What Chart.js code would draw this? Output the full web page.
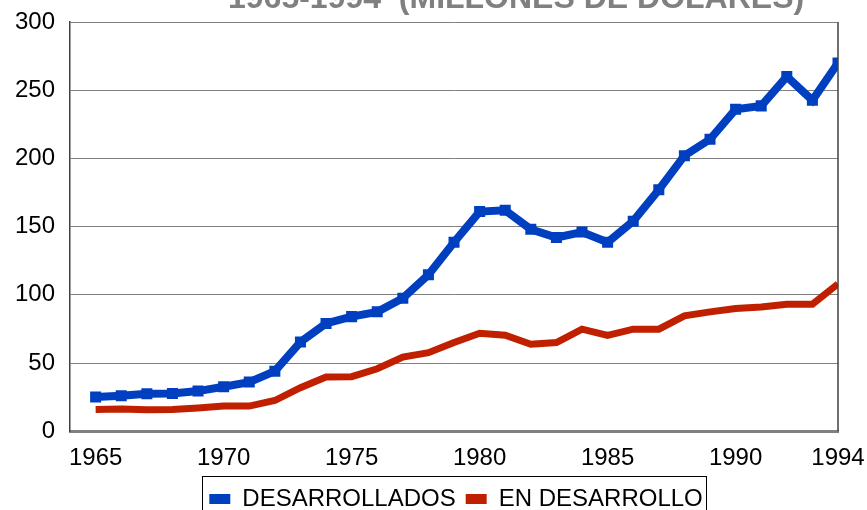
<!DOCTYPE html>
<html>
<head>
<meta charset="utf-8">
<script src="https://cdn.jsdelivr.net/npm/chart.js@4/dist/chart.umd.min.js"></script>
<style>
    html, body { margin: 0; padding: 0; background: #fff; }
    #wrap { position: relative; width: 867px; height: 510px; overflow: hidden; }
    #wrap canvas { position: absolute; left: 0; top: 0; }
</style>
</head>
<body>
<div id="wrap"><canvas id="exportChart" width="867" height="521"></canvas></div>
<script>
const years = [1965,1966,1967,1968,1969,1970,1971,1972,1973,1974,1975,1976,1977,1978,1979,
               1980,1981,1982,1983,1984,1985,1986,1987,1988,1989,1990,1991,1992,1993,1994];

const desarrollados = [25,26,27.5,27.7,29.4,32.6,36,44,65.4,79,84,87.5,97.5,114.7,138.5,
                       161,162,148,142,146,138.5,154,177,202,214,236,238.5,260,242.6,270];

const enDesarrollo = [16,16.3,15.8,16,17,18.4,18.4,22.5,31.9,39.7,40,45.8,54.4,57.6,65,
                      71.8,70.3,63.7,65,74.8,70.3,74.8,74.8,84.6,87.5,90,91,93,93,108];

const xTicks = [1965,1970,1975,1980,1985,1990,1994];
const yTicks = [0,50,100,150,200,250,300];

const titleText = "1965-1994  (MILLONES DE DÓLARES)";
const FONT = "'Liberation Sans', Arial, sans-serif";

function toPoints(values) {
    return values.map((v, i) => ({ x: years[i], y: v }));
}

// frame on the right, box around the legend, cut-off title
let legendShift = 0;
const extras = {
    id: "extras",
    beforeDraw(chart) {
        // center the legend under the plot instead of the canvas
        const lg = chart.legend;
        const a = chart.chartArea;
        legendShift = (a.left + a.right) / 2 - (lg.left + lg.right) / 2 + 2;
        lg.left += legendShift;
        lg.right += legendShift;
    },
    afterDraw(chart) {
        const ctx = chart.ctx;
        const a = chart.chartArea;
        ctx.save();
        ctx.strokeStyle = "#404040";
        ctx.lineWidth = 1.5;
        ctx.beginPath();
        ctx.moveTo(a.right, a.top);
        ctx.lineTo(a.right, a.bottom);
        ctx.stroke();

        const boxes = chart.legend.legendHitBoxes || [];
        if (boxes.length) {
            const first = boxes[0];
            const last = boxes[boxes.length - 1];
            const x0 = Math.round(first.left + legendShift) - 6.5;
            const x1 = Math.round(last.left + last.width + legendShift) + 3.5;
            ctx.strokeStyle = "#000";
            ctx.lineWidth = 1;
            ctx.strokeRect(x0, Math.round(first.top) - 10.5, x1 - x0, 60);
        }

        ctx.fillStyle = "#808080";
        ctx.font = "bold 32px " + FONT;
        ctx.textAlign = "left";
        ctx.textBaseline = "alphabetic";
        ctx.fillText(titleText, 228, 8);
        ctx.restore();
    }
};

new Chart(
    document.getElementById("exportChart"),
    {
        type: "line",

        data: {
            datasets: [
                {
                    label: "DESARROLLADOS",
                    data: toPoints(desarrollados),
                    borderColor: "#0040C0",
                    backgroundColor: "#0040C0",
                    borderWidth: 8,
                    pointStyle: "rect",
                    pointRadius: 7.8,
                    pointBorderWidth: 0,
                    tension: 0
                },
                {
                    label: "EN DESARROLLO",
                    data: toPoints(enDesarrollo),
                    borderColor: "#C02000",
                    backgroundColor: "#C02000",
                    borderWidth: 7,
                    pointRadius: 0,
                    tension: 0
                }
            ]
        },

        plugins: [extras],

        options: {
            responsive: false,
            animation: false,
            layout: {
                padding: { left: 0, right: 29, top: 22, bottom: 0 }
            },
            plugins: {
                legend: {
                    position: "bottom",
                    labels: {
                        boxWidth: 21,
                        boxHeight: 10,
                        padding: 10,
                        color: "#000",
                        font: { family: FONT, size: 24 },
                        generateLabels: chart =>
                            Chart.defaults.plugins.legend.labels.generateLabels(chart)
                                .map(l => ({ ...l, lineWidth: 0 }))
                    }
                },
                tooltip: { enabled: false }
            },
            scales: {
                x: {
                    type: "linear",
                    min: 1964,
                    max: 1994,
                    afterBuildTicks: scale => {
                        scale.ticks = xTicks.map(v => ({ value: v }));
                    },
                    afterFit: scale => {
                        scale.height -= 9;
                        scale.paddingRight = 0;
                    },
                    ticks: {
                        autoSkip: false,
                        maxRotation: 0,
                        padding: 13,
                        color: "#000",
                        font: { family: FONT, size: 24 },
                        callback: v => String(v)
                    },
                    grid: { display: false, drawTicks: false },
                    border: { color: "#808080", width: 3 }
                },
                y: {
                    min: 0,
                    max: 300,
                    afterBuildTicks: scale => {
                        scale.ticks = yTicks.map(v => ({ value: v }));
                    },
                    afterFit: scale => {
                        scale.paddingTop = 0;
                    },
                    ticks: {
                        padding: 15,
                        color: "#000",
                        font: { family: FONT, size: 24 }
                    },
                    grid: { color: "#808080", lineWidth: 1, drawTicks: false },
                    border: { color: "#404040", width: 1.5 }
                }
            }
        }
    }
);
</script>
</body>
</html>
